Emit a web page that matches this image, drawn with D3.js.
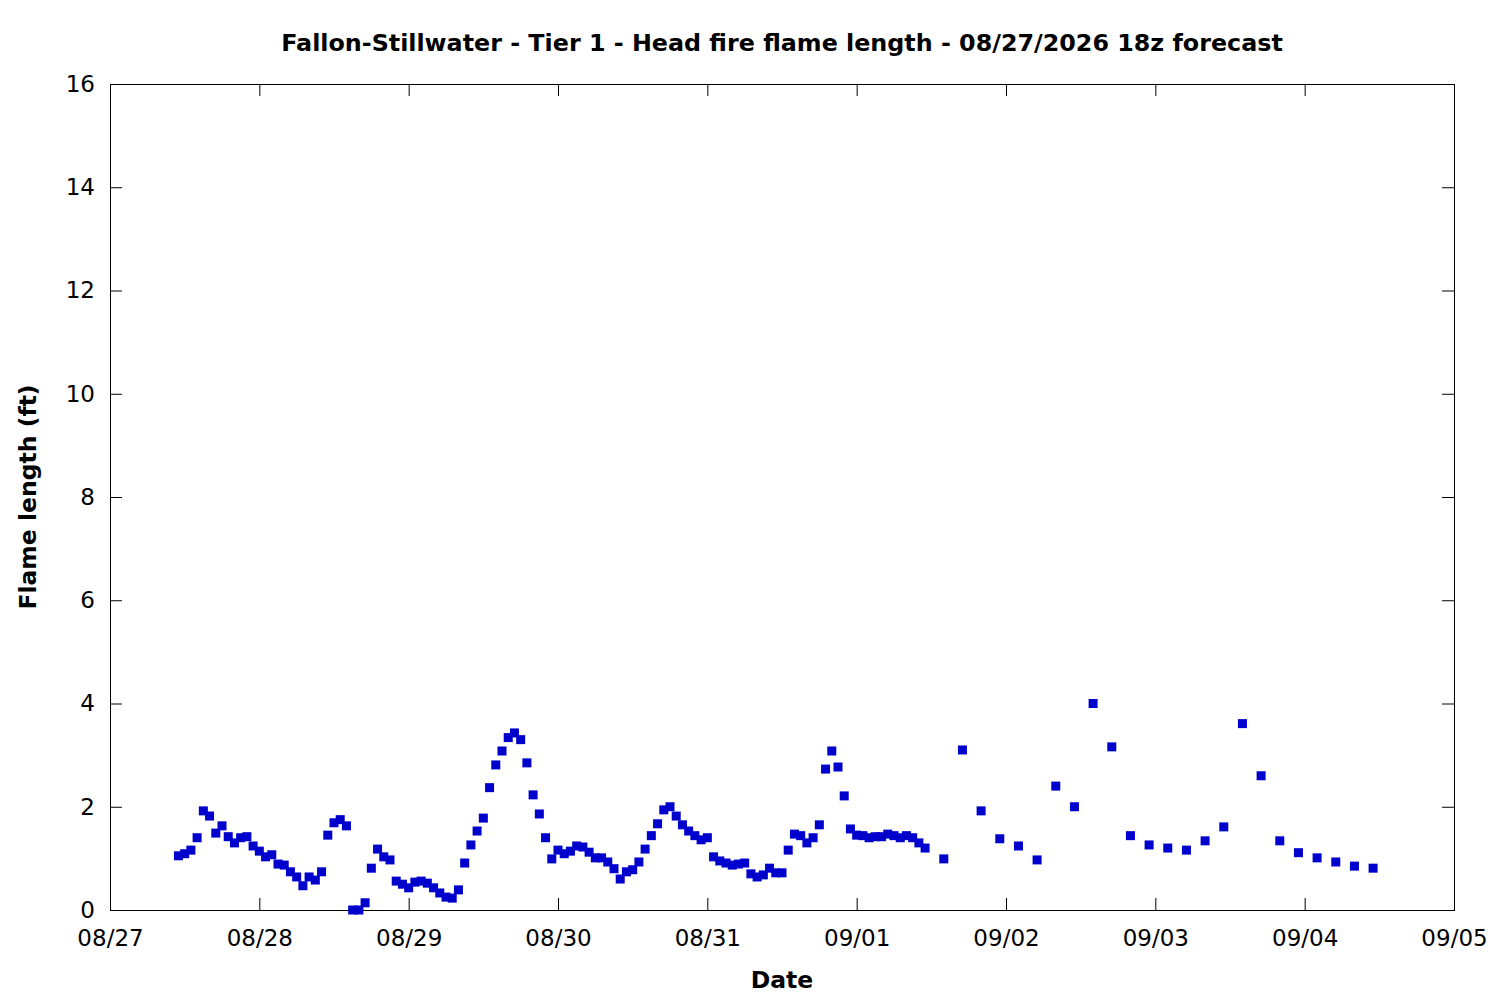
<!DOCTYPE html>
<html>
<head>
<meta charset="utf-8">
<script src="https://cdn.jsdelivr.net/npm/d3@7"></script>
<style>
  html, body { margin: 0; padding: 0; background: #fff; }
  svg { display: block; font-family: "DejaVu Sans", sans-serif; }
</style>
</head>
<body>
<script>
// ---- data ----
const titleText = "Fallon-Stillwater - Tier 1 - Head fire flame length - 08/27/2026 18z forecast";
const xLabel = "Date";
const yLabel = "Flame length (ft)";

// hourly forecast, starting 08/27 11:00
const hourlyStart = "2026-08-27T11:00:00Z";
const hourlyValues = [
  1.05,1.09,1.16,1.40,1.92,1.82,1.49,1.63,1.42,1.30,1.40,1.42,1.24,1.14,1.03,1.07,0.89,0.87,0.74,0.64,0.47,0.64,0.58,0.74,
  1.45,1.69,1.75,1.63,0.00,0.00,0.14,0.81,1.18,1.03,0.97,0.56,0.50,0.43,0.54,0.56,0.52,0.43,0.33,0.25,0.23,0.39,0.91,1.26,
  1.53,1.78,2.37,2.81,3.08,3.34,3.43,3.30,2.85,2.23,1.86,1.40,0.99,1.16,1.09,1.14,1.24,1.22,1.12,1.01,1.01,0.93,0.80,0.60,
  0.74,0.78,0.93,1.18,1.44,1.67,1.94,2.00,1.82,1.65,1.53,1.44,1.36,1.40,1.03,0.95,0.91,0.87,0.89,0.91,0.70,0.64,0.68,0.81,
  0.72,0.72,1.16,1.47,1.44,1.30,1.40,1.65,2.73,3.08,2.77,2.21,1.57,1.45,1.44,1.40,1.42,1.42,1.47,1.44,1.40,1.44,1.40,1.30,
  1.20
];
// 3-hourly forecast, starting 09/01 14:00
const threeHourlyStart = "2026-09-01T14:00:00Z";
const threeHourlyValues = [
  0.99,3.10,1.92,1.38,1.24,0.97,2.40,2.00,4.00,3.16,1.44,1.26,1.20,1.16,1.34,1.61,3.61,2.60,1.34,1.11,1.01,0.93,0.85,0.81
];
const xTickDates = ["2026-08-27","2026-08-28","2026-08-29","2026-08-30","2026-08-31","2026-09-01","2026-09-02","2026-09-03","2026-09-04","2026-09-05"];
const yTicks = [0,2,4,6,8,10,12,14,16];

// ---- build points ----
const points = [];
const h0 = new Date(hourlyStart);
hourlyValues.forEach((v, i) => points.push({ t: d3.utcHour.offset(h0, i), v }));
const t0 = new Date(threeHourlyStart);
threeHourlyValues.forEach((v, i) => points.push({ t: d3.utcHour.offset(t0, 3 * i), v }));

// ---- layout ----
const W = 1500, H = 1000;
const L = 110, R = 1454, T = 84, B = 910;
const FS = 23;

const svg = d3.select("body").append("svg").attr("width", W).attr("height", H);

const xTicks = xTickDates.map(s => new Date(s + "T00:00:00Z"));
const x = d3.scaleUtc().domain([xTicks[0], xTicks[xTicks.length - 1]]).range([L, R]);
const y = d3.scaleLinear().domain([0, 16]).range([B, T]);
const fmt = d3.utcFormat("%m/%d");

// bottom axis (labels + inward ticks)
const gx = svg.append("g").attr("transform", `translate(0,${B})`)
  .call(d3.axisBottom(x).tickValues(xTicks).tickFormat(fmt).tickSizeInner(-12).tickSizeOuter(0).tickPadding(20));
// top mirror ticks
const gxt = svg.append("g").attr("transform", `translate(0,${T})`)
  .call(d3.axisTop(x).tickValues(xTicks).tickFormat(() => "").tickSizeInner(-12).tickSizeOuter(0));
// left axis
const gy = svg.append("g").attr("transform", `translate(${L},0)`)
  .call(d3.axisLeft(y).tickValues(yTicks).tickFormat(d3.format("d")).tickSizeInner(-12).tickSizeOuter(0).tickPadding(15));
// right mirror ticks
const gyr = svg.append("g").attr("transform", `translate(${R},0)`)
  .call(d3.axisRight(y).tickValues(yTicks).tickFormat(() => "").tickSizeInner(-12).tickSizeOuter(0));

[gx, gxt, gy, gyr].forEach(g => {
  g.select(".domain").remove();
  g.selectAll("line").attr("stroke", "#000").attr("stroke-width", 1);
  g.selectAll("text").attr("fill", "#000").style("font-size", FS + "px").style("font-family", "'DejaVu Sans', sans-serif");
});

// frame
svg.append("rect").attr("x", L + 0.5).attr("y", T + 0.5).attr("width", R - L).attr("height", B - T)
  .attr("fill", "none").attr("stroke", "#000").attr("stroke-width", 1);

// points
svg.append("g").selectAll("rect").data(points).join("rect")
  .attr("x", d => x(d.t) - 4.5).attr("y", d => y(d.v) - 4.5)
  .attr("width", 9).attr("height", 9).attr("fill", "#0000cc");

// title
svg.append("text").attr("x", (L + R) / 2).attr("y", 51).attr("text-anchor", "middle")
  .style("font-size", "23.8px").style("font-weight", "bold").text(titleText);
// x label
svg.append("text").attr("x", (L + R) / 2).attr("y", 988).attr("text-anchor", "middle")
  .style("font-size", "23.5px").style("font-weight", "bold").text(xLabel);
// y label
svg.append("text").attr("transform", `translate(36,${(T + B) / 2}) rotate(-90)`).attr("text-anchor", "middle")
  .style("font-size", "23.5px").style("font-weight", "bold").text(yLabel);
</script>
</body>
</html>
